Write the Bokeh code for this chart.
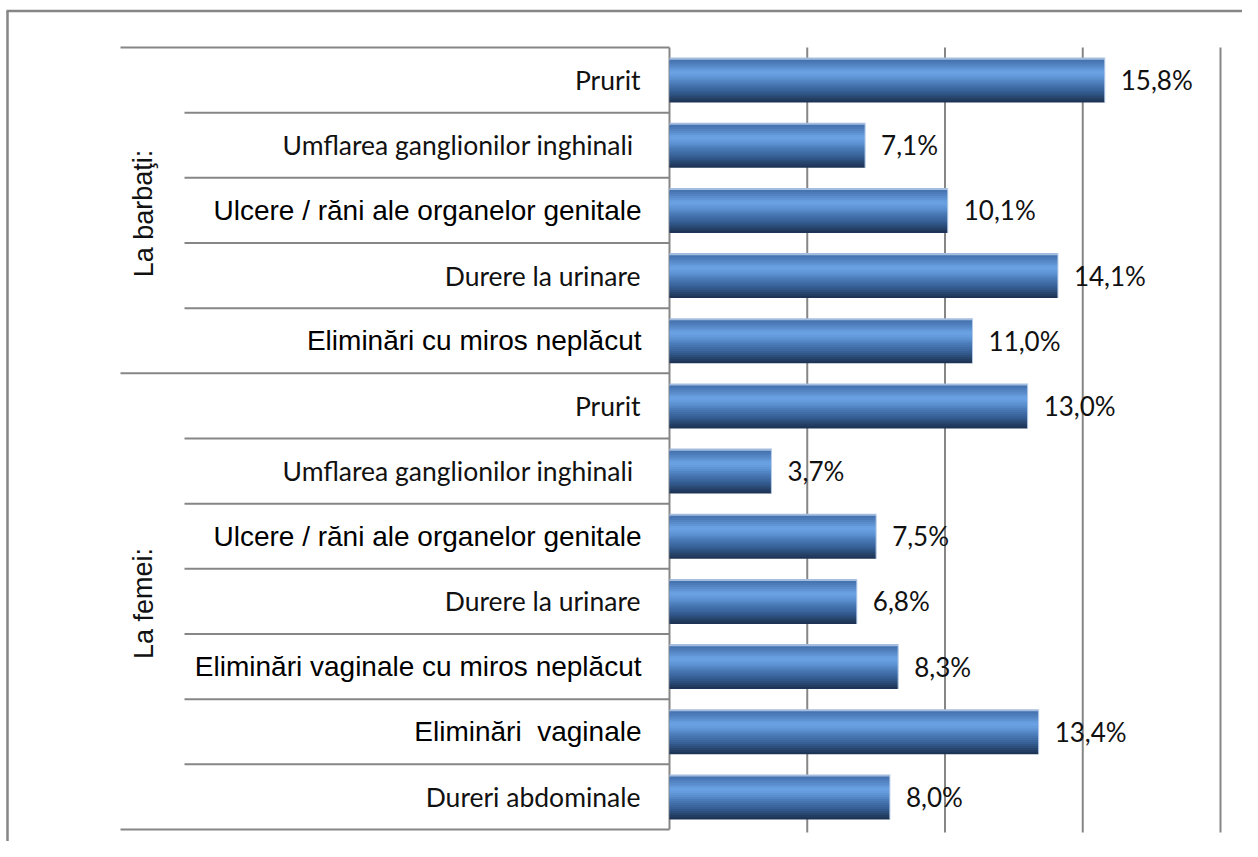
from bokeh.plotting import figure
from bokeh.models import Range1d, ColumnDataSource
from bokeh.core.properties import value
from bokeh.embed import file_html
from bokeh.resources import INLINE

# ---------------- data ----------------
groups = ["La barbaţi:", "La femei:"]
men_symptoms = ["Prurit", "Umflarea ganglionilor inghinali ",
                "Ulcere / răni ale organelor genitale", "Durere la urinare",
                "Eliminări cu miros neplăcut"]
men_values = [15.8, 7.1, 10.1, 14.1, 11.0]
women_symptoms = ["Prurit", "Umflarea ganglionilor inghinali ",
                  "Ulcere / răni ale organelor genitale", "Durere la urinare",
                  "Eliminări vaginale cu miros neplăcut", "Eliminări  vaginale",
                  "Dureri abdominale"]
women_values = [13.0, 3.7, 7.5, 6.8, 8.3, 13.4, 8.0]
x_ticks = [0, 5, 10, 15, 20]

# ---------------- styles ----------------
ARIAL_LABELS = {"Ulcere / răni ale organelor genitale", "Eliminări cu miros neplăcut",
                "Eliminări vaginale cu miros neplăcut", "Eliminări  vaginale"}
LINE = "#868686"
TEXT = "#111111"

W, H = 1242, 841
X0_PX, X_SCALE = 669, 27.55      # px of value 0, px per percent
Y0_PX, Y_SCALE = 829, 65.1667    # px of table bottom, px per row


def xd(px):
    return (px - X0_PX) / X_SCALE


def yd(py):
    return (Y0_PX - py) / Y_SCALE


labels = men_symptoms + women_symptoms
values = men_values + women_values
n = len(labels)
centers = [n - k - 0.5 for k in range(n)]

p = figure(width=W, height=H, output_backend="svg", toolbar_location=None,
           x_range=Range1d(xd(0), xd(W)),
           y_range=Range1d(yd(H), yd(0)),
           x_axis_type=None, y_axis_type=None, min_border=0)
p.grid.visible = False
p.outline_line_color = None
p.background_fill_color = "white"
p.border_fill_color = "white"

# outer frame (left and top edges)
p.segment(x0=[xd(7), xd(6)], y0=[yd(10.5), yd(10.5)], x1=[xd(7), xd(W)], y1=[yd(H), yd(10.5)],
          line_color=LINE, line_width=2.5)

# vertical gridlines
top_y, bot_y = float(n), 0.0
p.segment(x0=x_ticks[1:], y0=[top_y] * 4, x1=x_ticks[1:], y1=[yd(832)] * 4,
          line_color=LINE, line_width=2)

# table lines on the left
n_men = len(men_symptoms)
hx0, hy = [], []
for b in range(n + 1):
    hx0.append(xd(120) if b in (0, n_men, n) else xd(184))
    hy.append(n - b)
p.segment(x0=hx0, y0=hy, x1=[0] * len(hy), y1=hy, line_color=LINE, line_width=2)
p.segment(x0=[0], y0=[top_y], x1=[0], y1=[bot_y], line_color=LINE, line_width=2)


# bars with simulated vertical gradient
def hex2rgb(h):
    return tuple(int(h[i:i + 2], 16) for i in (1, 3, 5))


stops = [(0.00, "#a9c1e0"), (0.04, "#a0bade"), (0.06, "#4573b0"), (0.18, "#5686c4"),
         (0.32, "#6ba4e6"), (0.45, "#5e94d4"), (0.60, "#4676b2"), (0.75, "#365f96"),
         (0.88, "#28466f"), (1.00, "#1c3050")]


def color_at(t):
    for (a, ca), (b, cb) in zip(stops[:-1], stops[1:]):
        if a <= t <= b:
            f = (t - a) / (b - a) if b > a else 0
            r1, g1, b1 = hex2rgb(ca)
            r2, g2, b2 = hex2rgb(cb)
            return "#%02x%02x%02x" % (round(r1 + (r2 - r1) * f), round(g1 + (g2 - g1) * f),
                                      round(b1 + (b2 - b1) * f))
    return stops[-1][1]


NB = 22
BAR_H = 0.69
OVER = 1.2 / Y_SCALE   # ~1.2px overlap hides anti-aliasing seams
bx, by, bh, bc = [], [], [], []
for v, c in zip(values, centers):
    top = c + BAR_H / 2
    for i in range(NB):
        a, b = i / NB, (i + 1) / NB
        if i < NB - 1:
            y_top, y_bot = top - a * BAR_H, top - b * BAR_H - OVER
        else:
            y_top, y_bot = top - a * BAR_H, top - b * BAR_H
        bx.append(v)
        by.append((y_top + y_bot) / 2)
        bh.append(y_top - y_bot)
        bc.append(color_at((a + b) / 2))
p.hbar(y=by, left=0, right=bx, height=bh, fill_color=bc, line_color=None)
p.segment(x0=values, y0=[c - BAR_H / 2 for c in centers], x1=values,
          y1=[c + BAR_H / 2 for c in centers], line_color="#b8cde8", line_width=1)

# value labels
vsrc = ColumnDataSource(dict(x=values, y=centers,
                             t=[f"{v:.1f}".replace(".", ",") + "%" for v in values]))
p.text(x="x", y="y", text="t", source=vsrc, x_offset=16, text_align="left",
       text_baseline="middle", text_font=value("Lato"), text_font_size="26px",
       text_color=TEXT)

# category labels
ax, ay, at = [], [], []
cx, cy, ct = [], [], []
for lab, c in zip(labels, centers):
    shown = lab.replace("  ", " \u00a0")
    if lab in ARIAL_LABELS:
        ax.append(xd(641)); ay.append(c); at.append(shown)
    else:
        cx.append(xd(640)); cy.append(c); ct.append(shown)
p.text(x=ax, y=ay, text=at, text_align="right", text_baseline="middle",
       text_font=value("Liberation Sans"), text_font_size="28px", text_color="#000000")
p.text(x=cx, y=cy, text=ct, text_align="right", text_baseline="middle",
       text_font=value("Lato"), text_font_size="26.5px", text_color=TEXT)

# group labels (rotated)
p.text(x=[xd(143), xd(143)], y=[yd(213), yd(603)], text=groups, angle=1.5708,
       text_align="center", text_baseline="middle",
       text_font=value("Liberation Sans"), text_font_size="27px", text_color=TEXT)

open("out.html", "w").write(file_html(p, INLINE))
